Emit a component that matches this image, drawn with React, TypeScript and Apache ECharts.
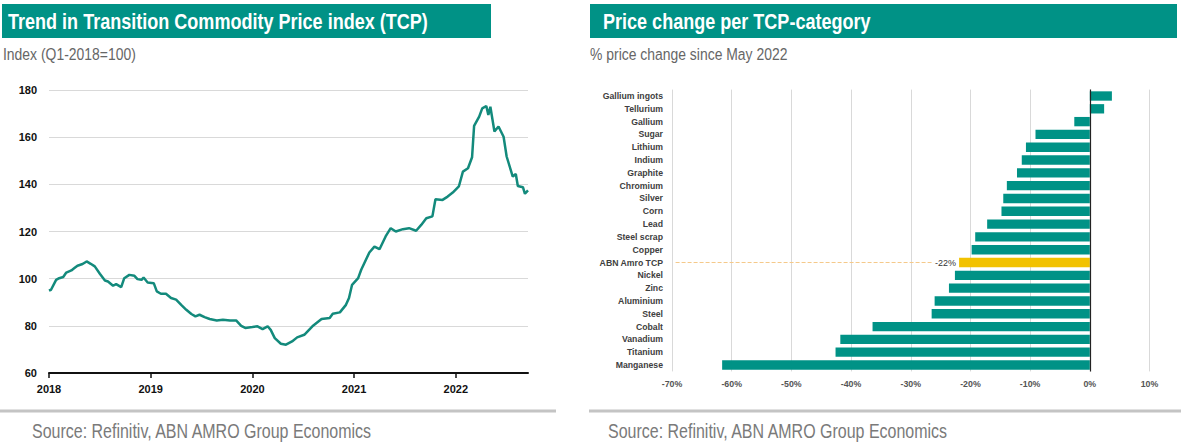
import React, { useEffect, useRef } from "react";
import * as echarts from "echarts";

// ---------- Data ----------
const tcpYears = [
  2018.0, 2018.02, 2018.07, 2018.1, 2018.14, 2018.17, 2018.22, 2018.25, 2018.28, 2018.33,
  2018.37, 2018.41, 2018.45, 2018.5, 2018.55, 2018.58, 2018.63, 2018.66, 2018.71, 2018.74,
  2018.79, 2018.84, 2018.87, 2018.91, 2018.93, 2018.97, 2019.03, 2019.06, 2019.1, 2019.15,
  2019.2, 2019.25, 2019.3, 2019.35, 2019.4, 2019.44, 2019.48, 2019.53, 2019.58, 2019.65,
  2019.71, 2019.78, 2019.84, 2019.89, 2019.93, 2020.0, 2020.05, 2020.1, 2020.15, 2020.18,
  2020.22, 2020.28, 2020.33, 2020.39, 2020.44, 2020.51, 2020.59, 2020.68, 2020.76, 2020.79,
  2020.86, 2020.92, 2020.95, 2020.98, 2021.04, 2021.07, 2021.15, 2021.2, 2021.25, 2021.31,
  2021.36, 2021.41, 2021.48, 2021.54, 2021.61, 2021.66, 2021.71, 2021.77, 2021.8, 2021.87,
  2021.92, 2021.97, 2022.03, 2022.07, 2022.12, 2022.16, 2022.18, 2022.23, 2022.26, 2022.3,
  2022.32, 2022.34, 2022.38, 2022.42, 2022.47, 2022.5, 2022.56, 2022.59, 2022.61, 2022.66,
  2022.68, 2022.71,
];
const tcpValues = [
  94.9, 95.3, 99.5, 100.2, 100.7, 102.6, 103.5, 104.5, 105.5, 106.2,
  107.3, 106.3, 105.2, 102.1, 99.2, 98.8, 97.0, 97.7, 96.4, 100.2,
  101.6, 101.2, 99.8, 99.5, 100.5, 98.4, 98.1, 94.6, 93.6, 93.6,
  91.8, 91.1, 88.9, 86.8, 85.0, 84.0, 84.7, 83.7, 82.9, 82.3,
  82.6, 82.3, 82.3, 80.0, 79.1, 79.5, 79.8, 78.6, 79.8, 78.3,
  74.8, 72.4, 72.0, 73.4, 75.1, 76.2, 79.8, 82.9, 83.3, 85.1,
  85.7, 88.9, 91.8, 97.4, 100.2, 103.8, 111.1, 113.6, 112.5, 117.9,
  121.4, 120.0, 121.0, 121.4, 120.3, 122.8, 125.6, 126.4, 133.7, 133.4,
  134.8, 136.5, 139.1, 145.4, 146.8, 151.5, 164.8, 168.7, 172.2, 173.2,
  169.4, 172.9, 162.4, 164.5, 160.2, 151.8, 143.3, 144.4, 139.3, 138.8,
  136.0, 137.4,
];
const yearTicks = [2018, 2019, 2020, 2021, 2022];

const categories = [
  "Gallium ingots", "Tellurium", "Gallium", "Sugar", "Lithium", "Indium", "Graphite",
  "Chromium", "Silver", "Corn", "Lead", "Steel scrap", "Copper", "ABN Amro TCP",
  "Nickel", "Zinc", "Aluminium", "Steel", "Cobalt", "Vanadium", "Titanium", "Manganese",
];
const changes = [
  3.7, 2.4, -2.6, -9.1, -10.7, -11.4, -12.2, -13.9, -14.5, -14.8, -17.2, -19.2, -19.8,
  -21.9, -22.6, -23.6, -26.0, -26.5, -36.4, -41.8, -42.6, -61.6,
];
const highlightCategory = "ABN Amro TCP";

const leftTitle = "Trend in Transition Commodity Price index (TCP)";
const rightTitle = "Price change per TCP-category";
const leftSubtitle = "Index (Q1-2018=100)";
const rightSubtitle = "% price change since May 2022";
const sourceText = "Source: Refinitiv, ABN AMRO Group Economics";

// ---------- Styles ----------
const TEAL = "#009286";
const LINE = "#138a7c";
const YELLOW = "#f2c200";
const SANS = "'Liberation Sans', Arial, sans-serif";
const NARROW_X = 0.82; // horizontal condensing for the heading texts

export default function App() {
  const ref = useRef<HTMLDivElement>(null);

  useEffect(() => {
    if (!ref.current) return;
    const chart = echarts.init(ref.current, undefined, { renderer: "svg" });

    const lineData = tcpYears.map((y, i) => [y, tcpValues[i]]);
    const hiIdx = categories.indexOf(highlightCategory);
    const barData = changes.map((v, i) =>
      i === hiIdx
        ? { value: v, itemStyle: { color: YELLOW }, label: { show: true } }
        : { value: v }
    );

    const narrowText = (x: number, y: number, text: string, font: string, fill: string) => ({
      type: "text",
      x,
      y,
      scaleX: NARROW_X,
      style: { text, fill, font, verticalAlign: "middle" },
      silent: true,
    });

    chart.setOption({
      animation: false,
      backgroundColor: "#ffffff",
      grid: [
        { left: 49, top: 90, width: 479, height: 283, containLabel: false },
        { left: 672, top: 89.6, width: 477.5, height: 281.8, containLabel: false },
      ],
      xAxis: [
        {
          gridIndex: 0,
          type: "value",
          min: 2018,
          max: 2022.71,
          interval: 1,
          splitLine: { show: false },
          axisLine: { show: true, onZero: false, lineStyle: { color: "#111", width: 2 } },
          axisTick: {
            show: true,
            length: 5,
            customValues: yearTicks,
            lineStyle: { color: "#111", width: 1.5 },
          },
          axisLabel: {
            customValues: yearTicks,
            margin: 10,
            color: "#111",
            fontFamily: SANS,
            fontWeight: "bold",
            fontSize: 11,
            formatter: (v: number) => String(Math.round(v)),
          },
        },
        {
          gridIndex: 1,
          type: "value",
          min: -70,
          max: 10,
          interval: 10,
          splitLine: { show: true, lineStyle: { color: "#d9d9d9", width: 1 } },
          axisLine: { show: false },
          axisTick: { show: false },
          axisLabel: {
            margin: 8,
            color: "#555",
            fontFamily: SANS,
            fontWeight: "bold",
            fontSize: 8.8,
            formatter: (v: number) => `${v}%`,
          },
        },
      ],
      yAxis: [
        {
          gridIndex: 0,
          type: "value",
          min: 60,
          max: 180,
          interval: 20,
          axisLine: { show: false },
          axisTick: { show: false },
          splitLine: { show: true, lineStyle: { color: "#d9d9d9", width: 1 } },
          axisLabel: {
            margin: 12,
            color: "#111",
            fontFamily: SANS,
            fontWeight: "bold",
            fontSize: 11,
          },
        },
        {
          gridIndex: 1,
          type: "category",
          inverse: true,
          data: categories,
          axisLine: { show: false },
          axisTick: { show: false },
          splitLine: { show: false },
          axisLabel: {
            interval: 0,
            margin: 9,
            color: "#404040",
            fontFamily: SANS,
            fontWeight: "bold",
            fontSize: 8.7,
          },
        },
      ],
      series: [
        {
          type: "line",
          xAxisIndex: 0,
          yAxisIndex: 0,
          data: lineData,
          showSymbol: false,
          symbol: "none",
          lineStyle: { color: LINE, width: 2.5 },
          silent: true,
        },
        {
          type: "bar",
          xAxisIndex: 1,
          yAxisIndex: 1,
          data: barData,
          barCategoryGap: "27%",
          itemStyle: { color: TEAL },
          silent: true,
          label: {
            show: false,
            position: "left",
            distance: 3,
            color: "#333",
            fontFamily: SANS,
            fontSize: 9,
            formatter: (p: any) => `${Math.round(p.value)}%`,
          },
          markLine: {
            silent: true,
            symbol: ["none", "none"],
            label: { show: false },
            data: [
              { xAxis: 0, lineStyle: { color: "#222", width: 1.2, type: "solid" } },
              [
                { coord: [-69.4, highlightCategory], lineStyle: { color: "#f5c98a", width: 1, type: "dashed" } },
                { coord: [-26.3, highlightCategory] },
              ],
            ],
          },
        },
      ],
      graphic: [
        { type: "rect", shape: { x: 2, y: 4, width: 489, height: 34 }, style: { fill: TEAL }, silent: true },
        narrowText(8, 21, leftTitle, `bold 22px ${SANS}`, "#fff"),
        { type: "rect", shape: { x: 590, y: 4, width: 587, height: 34 }, style: { fill: TEAL }, silent: true },
        narrowText(603, 21, rightTitle, `bold 22px ${SANS}`, "#fff"),
        narrowText(3, 54, leftSubtitle, `17px ${SANS}`, "#666"),
        narrowText(590, 54, rightSubtitle, `17px ${SANS}`, "#666"),
        { type: "line", shape: { x1: 0, y1: 411, x2: 556, y2: 411 }, style: { stroke: "#c4c4c4", lineWidth: 3 }, silent: true },
        { type: "line", shape: { x1: 589, y1: 411, x2: 1181, y2: 411 }, style: { stroke: "#c4c4c4", lineWidth: 3 }, silent: true },
        narrowText(32, 431, sourceText, `19.5px ${SANS}`, "#7a7a7a"),
        narrowText(608, 431, sourceText, `19.5px ${SANS}`, "#7a7a7a"),
      ],
    });

    return () => chart.dispose();
  }, []);

  return (
    <div
      ref={ref}
      style={{ position: "absolute", left: 0, top: 0, width: 1181, height: 448, background: "#fff" }}
    />
  );
}
